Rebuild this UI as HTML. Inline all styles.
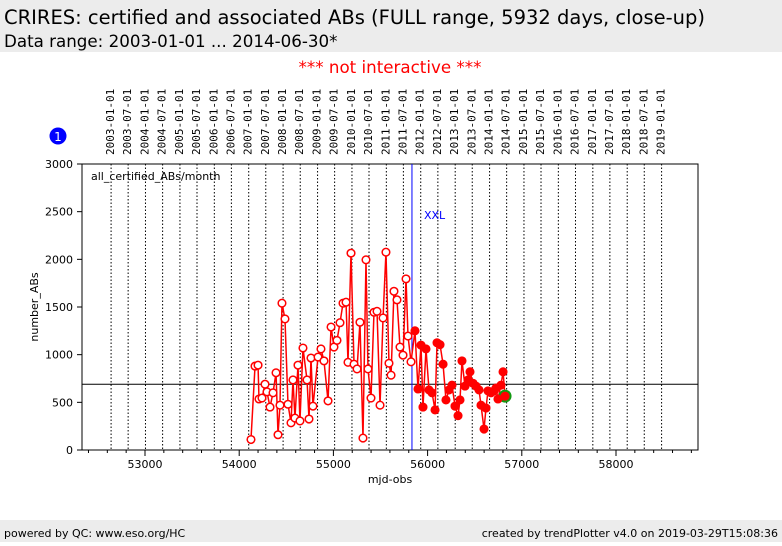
<!DOCTYPE html>
<html><head><meta charset="utf-8"><style>
body{margin:0;background:#fff;width:782px;height:542px;overflow:hidden;font-family:"DejaVu Sans","Liberation Sans",sans-serif}
</style></head><body>
<svg id="c" width="782" height="542" xmlns="http://www.w3.org/2000/svg">
<rect x="0" y="0" width="782" height="52" fill="#ececec"/>
<text x="4" y="24" font-size="19.5" fill="#000">CRIRES: certified and associated ABs (FULL range, 5932 days, close-up)</text>
<text x="4" y="47" font-size="16.7" fill="#000">Data range: 2003-01-01 ... 2014-06-30*</text>
<text x="390" y="73" font-size="16.7" fill="#ff0000" text-anchor="middle">*** not interactive ***</text>
<circle cx="58" cy="136" r="8.5" fill="#0000ff"/>
<text x="58" y="141" font-size="12" fill="#fff" text-anchor="middle">1</text>
<rect x="0" y="520" width="782" height="22" fill="#ececec"/>
<text x="4" y="537" font-size="11">powered by QC: www.eso.org/HC</text>
<text x="778" y="537" font-size="11" text-anchor="end">created by trendPlotter v4.0 on 2019-03-29T15:08:36</text>
<g id="plot"></g>
</svg>
<script>
const mjd=[54125,54168,54200,54210,54242,54274,54295,54327,54359,54391,54412,54433,54454,54486,54518,54550,54571,54592,54624,54645,54677,54720,54741,54762,54783,54837,54868,54900,54943,54975,55006,55038,55070,55102,55134,55155,55187,55219,55251,55282,55314,55346,55367,55399,55431,55463,55495,55527,55558,55590,55612,55643,55675,55707,55739,55771,55792,55824,
55866,55898,55930,55951,55983,56015,56047,56079,56100,56132,56164,56195,56227,56259,56291,56323,56344,56365,56397,56429,56450,56482,56514,56546,56567,56599,56620,56641,56673,56705,56726,56747,56779,56801,56822];
const vals=[110,880,890,535,545,690,610,450,600,810,160,470,1540,1375,480,285,735,335,890,305,1070,735,325,965,460,975,1060,935,515,1290,1080,1150,1335,1540,1550,920,2065,900,850,1340,125,1995,850,545,1445,1455,470,1385,2075,910,785,1665,1575,1080,995,1795,1195,925,
1250,640,1100,450,1060,630,600,420,1125,1105,900,525,630,680,460,360,525,935,670,735,820,700,670,630,470,220,440,620,600,620,650,535,680,820,565];
const xTicks=[53000,54000,55000,56000,57000,58000];
const yTicks=[0,500,1000,1500,2000,2500,3000];
const dateLabels=["2003-01-01","2003-07-01","2004-01-01","2004-07-01","2005-01-01","2005-07-01","2006-01-01","2006-07-01","2007-01-01","2007-07-01","2008-01-01","2008-07-01","2009-01-01","2009-07-01","2010-01-01","2010-07-01","2011-01-01","2011-07-01","2012-01-01","2012-07-01","2013-01-01","2013-07-01","2014-01-01","2014-07-01","2015-01-01","2015-07-01","2016-01-01","2016-07-01","2017-01-01","2017-07-01","2018-01-01","2018-07-01","2019-01-01"];
const dateMjd=[52640,52821,53005,53187,53371,53552,53736,53917,54101,54282,54466,54648,54832,55013,55197,55378,55562,55743,55927,56109,56293,56474,56658,56839,57023,57204,57388,57570,57754,57935,58119,58300,58484];
const refLine=690, cutMjd=55834, filledFrom=55840;
const L=82,R=698,T=164,B=450;
const X=m=>145+(m-53000)*0.0942, Y=v=>B-v*(B-T)/3000;
const g=document.getElementById('plot'),NS="http://www.w3.org/2000/svg";
function mk(t,a,p){const e=document.createElementNS(NS,t);for(const k in a)e.setAttribute(k,a[k]);(p||g).appendChild(e);return e;}
dateLabels.forEach((d,i)=>{const x=X(dateMjd[i]);
 const l=mk('line',{x1:x,y1:T,x2:x,y2:B,stroke:'#000','stroke-width':1,'stroke-dasharray':'1.5,2'});
 
 
 const t=mk('text',{x:0,y:0,'font-size':11,'font-family':'DejaVu Sans Mono,monospace',transform:`translate(${x+3},155) rotate(-90)`});
 t.textContent=d;
 
 
});
const fr=mk('rect',{x:L,y:T,width:R-L,height:B-T,fill:'none',stroke:'#000'});


yTicks.forEach(v=>{const y=Y(v);mk('line',{x1:L-5,y1:y,x2:L,y2:y,stroke:'#000'});
 const t=mk('text',{x:L-9,y:y+4,'font-size':11,'text-anchor':'end'});t.textContent=v;
 
 });
for(let m=52400;m<=58800;m+=200){const x=X(m);if(x<L||x>R)continue;const maj=m%1000===0;mk('line',{x1:x,y1:B,x2:x,y2:B+(maj?6:3),stroke:'#000'});}
xTicks.forEach(m=>{const t=mk('text',{x:X(m),y:468,'font-size':11,'text-anchor':'middle'});t.textContent=m;
 
 });
let t=mk('text',{x:390,y:483,'font-size':11,'text-anchor':'middle'});t.textContent='mjd-obs';


t=mk('text',{x:0,y:0,'font-size':11,'text-anchor':'middle',transform:'translate(38,307) rotate(-90)'});t.textContent='number_ABs';


t=mk('text',{x:91,y:180,'font-size':11});t.textContent='all_certified_ABs/month';


const hl=mk('line',{x1:L,y1:Y(refLine),x2:R,y2:Y(refLine),stroke:'#000'});


const vl=mk('line',{x1:X(cutMjd),y1:T,x2:X(cutMjd),y2:B,stroke:'#0000ff'});


t=mk('text',{x:X(cutMjd)+12,y:219,'font-size':11,fill:'#0000ff'});t.textContent='XXL';


const pl=mk('polyline',{points:mjd.map((m,i)=>X(m)+','+Y(vals[i])).join(' '),fill:'none',stroke:'#ff0000','stroke-width':1.5});


const last=mjd.length-1;
const gc=mk('circle',{cx:X(mjd[last]),cy:Y(vals[last]),r:6.5,fill:'#119911'});


mjd.forEach((m,i)=>{const f=m>filledFrom;
 const c=mk('circle',{cx:X(m),cy:Y(vals[i]),r:3.8,fill:f?'#ff0000':'#fff',stroke:'#ff0000','stroke-width':1.5});
 
 });
</script>
</body></html>
